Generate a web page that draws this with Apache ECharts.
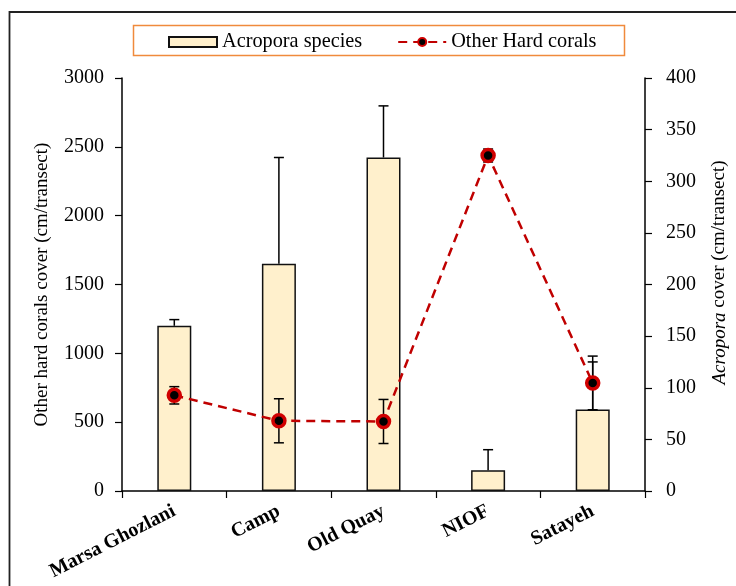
<!DOCTYPE html>
<html>
<head>
<meta charset="utf-8">
<script src="https://cdn.jsdelivr.net/npm/echarts@6/dist/echarts.min.js"></script>
<style>
  html, body { margin: 0; padding: 0; background: #fff; }
  #chart { width: 736px; height: 586px; }
</style>
</head>
<body>
<div id="chart"></div>
<script>
// Survey sites
const sites = ['Marsa Ghozlani', 'Camp', 'Old Quay', 'NIOF', 'Satayeh'];
// Acropora cover (cm/transect), right axis, with upper error
const acropora = [160, 220, 323, 20, 79];
const acroporaErr = [6, 103, 50, 20, 46];
// Other hard corals cover (cm/transect), left axis, with +/- error
const otherHard = [695, 510, 505, 2437, 785];
const otherHardErr = [63, 160, 160, 47, 195];
// Axis ticks
const leftTicks = { min: 0, max: 3000, interval: 500 };
const rightTicks = { min: 0, max: 400, interval: 50 };

const serif = 'Liberation Serif';

const barErrData = acropora.map((v, i) => [i, v, v + acroporaErr[i]]);
const lineErrData = otherHard.map((v, i) => [i, v - otherHardErr[i], v + otherHardErr[i]]);

function errorBars(withLowerCap) {
  return function (params, api) {
    const x = api.value(0);
    const lo = api.coord([x, api.value(1)]);
    const hi = api.coord([x, api.value(2)]);
    const half = 5;
    const st = { stroke: '#000', lineWidth: 1.5 };
    const children = [
      { type: 'line', shape: { x1: hi[0], y1: hi[1], x2: lo[0], y2: lo[1] }, style: st },
      { type: 'line', shape: { x1: hi[0] - half, y1: hi[1], x2: hi[0] + half, y2: hi[1] }, style: st }
    ];
    if (withLowerCap) {
      children.push({ type: 'line', shape: { x1: lo[0] - half, y1: lo[1], x2: lo[0] + half, y2: lo[1] }, style: st });
    }
    return { type: 'group', children };
  };
}

const plain = v => String(v);

const chart = echarts.init(document.getElementById('chart'), null, { renderer: 'canvas' });

chart.setOption({
  animation: false,
  backgroundColor: '#fff',
  textStyle: { fontFamily: serif, color: '#000' },
  graphic: [
    { type: 'rect', shape: { x: 9.5, y: 12, width: 800, height: 800 },
      style: { fill: 'none', stroke: '#222', lineWidth: 1.8 }, silent: true },
    { type: 'rect', shape: { x: 133.5, y: 25.5, width: 491, height: 30 },
      style: { fill: '#fff', stroke: '#f08a3c', lineWidth: 1.5 }, z: -1, silent: true }
  ],
  legend: {
    left: 163, top: 27,
    itemWidth: 48, itemHeight: 10, itemGap: 35,
    textStyle: { fontFamily: serif, fontSize: 20.3, color: '#000' },
    data: [
      { name: 'Acropora species', icon: 'rect' },
      { name: 'Other Hard corals' }
    ]
  },
  grid: { left: 122, right: 91, top: 78, bottom: 95, containLabel: false, outerBoundsMode: 'none' },
  xAxis: {
    type: 'category',
    data: sites,
    boundaryGap: true,
    axisLine: { lineStyle: { color: '#000', width: 1.5 } },
    axisTick: { show: true, length: 7, alignWithLabel: false, lineStyle: { color: '#000', width: 1.2 } },
    axisLabel: { rotate: 27, margin: 19, fontFamily: serif, fontWeight: 'bold', fontSize: 20, color: '#000', interval: 0 },
    splitLine: { show: false }
  },
  yAxis: [
    {
      type: 'value', position: 'left',
      min: leftTicks.min, max: leftTicks.max, interval: leftTicks.interval,
      name: 'Other hard corals cover (cm/transect)',
      nameLocation: 'middle', nameGap: 70, nameRotate: 90,
      nameTextStyle: { fontFamily: serif, fontSize: 19, color: '#000' },
      axisLine: { show: true, lineStyle: { color: '#000', width: 1.5 } },
      axisTick: { show: true, length: 7, lineStyle: { color: '#000', width: 1.2 } },
      axisLabel: { fontFamily: serif, fontSize: 20, color: '#000', margin: 18, formatter: plain },
      splitLine: { show: false }
    },
    {
      type: 'value', position: 'right',
      min: rightTicks.min, max: rightTicks.max, interval: rightTicks.interval,
      name: '{i|Acropora} cover (cm/transect)',
      nameLocation: 'middle', nameGap: 65, nameRotate: 90,
      nameTextStyle: {
        fontFamily: serif, fontSize: 19, color: '#000',
        padding: [0, 0, 0, 24],
        rich: { i: { fontFamily: serif, fontSize: 19, fontStyle: 'italic', color: '#000' } }
      },
      axisLine: { show: true, lineStyle: { color: '#000', width: 1.5 } },
      axisTick: { show: true, length: 7, lineStyle: { color: '#000', width: 1.2 } },
      axisLabel: { fontFamily: serif, fontSize: 20, color: '#000', margin: 21, formatter: plain },
      splitLine: { show: false }
    }
  ],
  series: [
    {
      name: 'Acropora species',
      type: 'bar',
      yAxisIndex: 1,
      data: acropora,
      barWidth: 34,
      itemStyle: { color: '#fff0cc', borderColor: '#111', borderWidth: 1.5 },
      z: 2
    },
    {
      name: 'acropora-error',
      type: 'custom',
      yAxisIndex: 1,
      data: barErrData,
      encode: { x: 0, y: [1, 2] },
      renderItem: errorBars(false),
      z: 3,
      silent: true
    },
    {
      name: 'Other Hard corals',
      type: 'line',
      yAxisIndex: 0,
      data: otherHard,
      symbol: 'circle',
      symbolSize: 12,
      lineStyle: { color: '#c00000', width: 2.5, type: [9, 6] },
      itemStyle: { color: '#000', borderColor: '#d00000', borderWidth: 3.5 },
      z: 5
    },
    {
      name: 'other-error',
      type: 'custom',
      yAxisIndex: 0,
      data: lineErrData,
      encode: { x: 0, y: [1, 2] },
      renderItem: errorBars(true),
      z: 4,
      silent: true
    }
  ]
});
</script>
</body>
</html>
